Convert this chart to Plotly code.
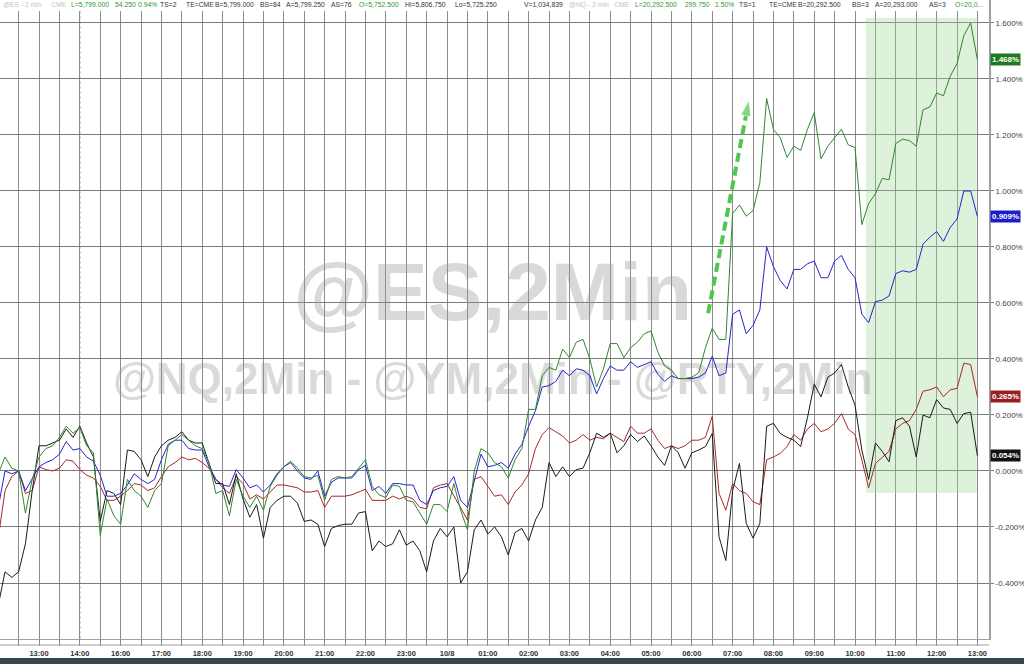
import plotly.graph_objects as go

# ---- data: % change, sampled every 10 minutes of displayed session time ----
nq = [-0.01, 0.05, 0.01, 0.00, -0.15, -0.03, 0.05, 0.08, 0.09, 0.12,
      0.16, 0.135, 0.155, 0.09, 0.065, -0.23, -0.10, -0.16, -0.19, -0.03,
      -0.07, -0.09, -0.13, -0.07, -0.045, 0.09, 0.11, 0.13, 0.11, 0.09,
      0.08, 0.03, -0.08, -0.07, -0.16, -0.03, -0.09, -0.13, -0.09, -0.14,
      -0.055, -0.015, 0.015, 0.035, 0.01, -0.02, -0.025, -0.015, -0.105, -0.03,
      -0.02, -0.025, -0.02, 0.01, 0.04, -0.055, -0.085, -0.095, -0.05, -0.055,
      -0.105, -0.11, -0.15, -0.19, -0.12, -0.12, -0.145, -0.045, -0.14, -0.21,
      0.00, 0.08, 0.065, 0.03, 0.015, -0.025, 0.04, 0.08, 0.22, 0.22,
      0.34, 0.37, 0.36, 0.435, 0.405, 0.46, 0.47, 0.40, 0.30, 0.365,
      0.455, 0.455, 0.405, 0.44, 0.46, 0.49, 0.50, 0.425, 0.375, 0.36,
      0.33, 0.33, 0.335, 0.35, 0.44, 0.51, 0.47, 0.47, 0.92, 0.95,
      0.91, 0.93, 1.03, 1.33, 1.22, 1.19, 1.12, 1.16, 1.145, 1.22,
      1.28, 1.115, 1.16, 1.19, 1.22, 1.165, 1.155, 0.88, 0.955, 0.99,
      1.045, 1.04, 1.17, 1.185, 1.18, 1.16, 1.29, 1.30, 1.35, 1.34,
      1.41, 1.455, 1.555, 1.60, 1.468]
es = [-0.13, 0.00, -0.01, 0.00, -0.07, -0.03, 0.015, 0.03, 0.04, 0.06,
      0.105, 0.075, 0.08, 0.05, 0.035, -0.015, -0.09, -0.09, -0.08, -0.05,
      -0.01, -0.03, -0.045, -0.03, 0.04, 0.095, 0.11, 0.11, 0.08, 0.075,
      0.075, 0.015, -0.03, -0.05, -0.055, 0.005, -0.025, -0.06, -0.05, -0.075,
      -0.05, -0.01, 0.015, 0.03, 0.00, -0.025, -0.03, 0.00, -0.09, -0.04,
      -0.025, -0.025, -0.025, 0.005, 0.02, -0.07, -0.055, -0.08, -0.045, -0.045,
      -0.05, -0.05, -0.105, -0.12, -0.07, -0.06, -0.055, -0.02, -0.105, -0.13,
      -0.03, 0.06, 0.015, 0.02, 0.03, 0.01, 0.06, 0.095, 0.16, 0.215,
      0.30, 0.305, 0.32, 0.36, 0.34, 0.365, 0.36, 0.34, 0.275, 0.33,
      0.375, 0.36, 0.36, 0.39, 0.37, 0.38, 0.39, 0.345, 0.32, 0.34,
      0.33, 0.33, 0.33, 0.335, 0.35, 0.41, 0.34, 0.35, 0.56, 0.575,
      0.49, 0.52, 0.575, 0.80, 0.73, 0.68, 0.65, 0.72, 0.72, 0.74,
      0.75, 0.69, 0.69, 0.75, 0.77, 0.72, 0.69, 0.56, 0.53, 0.605,
      0.61, 0.625, 0.705, 0.715, 0.71, 0.72, 0.81, 0.835, 0.855, 0.82,
      0.87, 0.90, 1.00, 1.00, 0.909]
ym = [-0.24, -0.07, -0.02, 0.00, -0.08, -0.07, 0.015, 0.005, 0.00, 0.01,
      0.04, 0.035, 0.005, -0.015, -0.025, -0.055, -0.105, -0.105, -0.09, -0.07,
      -0.045, -0.05, -0.07, -0.06, -0.02, 0.015, 0.03, 0.05, 0.04, 0.045,
      0.03, 0.01, -0.03, -0.06, -0.08, -0.02, -0.045, -0.10, -0.085, -0.10,
      -0.075, -0.05, -0.05, -0.055, -0.06, -0.075, -0.075, -0.07, -0.13, -0.09,
      -0.09, -0.09, -0.085, -0.075, -0.065, -0.105, -0.105, -0.105, -0.09, -0.10,
      -0.09, -0.10, -0.13, -0.135, -0.06, -0.05, -0.045, -0.09, -0.13, -0.175,
      -0.03, -0.02, -0.055, -0.09, -0.085, -0.12, -0.075, -0.05, -0.01, 0.08,
      0.13, 0.155, 0.14, 0.125, 0.10, 0.11, 0.13, 0.11, 0.12, 0.115,
      0.135, 0.12, 0.105, 0.16, 0.135, 0.135, 0.15, 0.11, 0.08, 0.09,
      0.08, 0.09, 0.11, 0.11, 0.12, 0.195, -0.08, -0.14, -0.045, -0.07,
      -0.08, -0.11, -0.12, 0.04, 0.05, 0.063, 0.087, 0.13, 0.11, 0.15,
      0.17, 0.14, 0.15, 0.17, 0.205, 0.15, 0.13, 0.04, -0.06, 0.027,
      0.05, 0.07, 0.15, 0.17, 0.18, 0.22, 0.285, 0.29, 0.30, 0.265,
      0.29, 0.295, 0.385, 0.38, 0.265]
rty = [-0.48, -0.36, -0.38, -0.36, -0.26, -0.07, 0.09, 0.09, 0.10, 0.11,
       0.15, 0.12, 0.16, 0.10, 0.05, -0.18, -0.07, -0.08, -0.12, 0.075,
       0.07, 0.04, -0.02, 0.05, 0.09, 0.11, 0.12, 0.14, 0.11, 0.10,
       0.10, 0.03, -0.045, -0.045, -0.12, -0.01, -0.10, -0.165, -0.12, -0.24,
       -0.13, -0.105, -0.09, -0.09, -0.115, -0.18, -0.175, -0.19, -0.27, -0.205,
       -0.195, -0.19, -0.19, -0.15, -0.145, -0.285, -0.25, -0.27, -0.26, -0.21,
       -0.265, -0.25, -0.285, -0.36, -0.25, -0.205, -0.235, -0.20, -0.40, -0.36,
       -0.21, -0.175, -0.225, -0.20, -0.235, -0.30, -0.22, -0.205, -0.25, -0.175,
       -0.13, 0.03, -0.02, 0.015, -0.02, 0.005, 0.01, 0.065, 0.135, 0.12,
       0.135, 0.065, 0.09, 0.13, 0.105, 0.125, 0.09, 0.05, 0.02, 0.09,
       0.065, 0.01, 0.065, 0.075, 0.087, 0.134, -0.235, -0.32, -0.07, 0.027,
       -0.187, -0.24, -0.187, 0.16, 0.17, 0.134, 0.12, 0.11, 0.087, 0.19,
       0.31, 0.265, 0.335, 0.35, 0.38, 0.30, 0.235, 0.075, -0.03, 0.10,
       0.07, 0.033, 0.18, 0.19, 0.16, 0.05, 0.20, 0.19, 0.255, 0.225,
       0.22, 0.17, 0.205, 0.21, 0.054]

minutes = [10 * i for i in range(len(nq))]   # minutes since 12:00 (session break removed)

hour_labels = ["13:00", "14:00", "16:00", "17:00", "18:00", "19:00", "20:00", "21:00",
               "22:00", "23:00", "10/8", "01:00", "02:00", "03:00", "04:00", "05:00",
               "06:00", "07:00", "08:00", "09:00", "10:00", "11:00", "12:00", "13:00"]
ytick_vals = [-0.4, -0.2, 0.0, 0.2, 0.4, 0.6, 0.8, 1.0, 1.2, 1.4, 1.6]
ytick_text = ["%.3f%%" % v for v in ytick_vals]

series = [("@YM", ym, "#a52a2a"), ("@RTY", rty, "#1a1a1a"),
          ("@ES", es, "#2424d0"), ("@NQ", nq, "#2f872f")]
last_labels = [(nq[-1], "#1f7a1f"), (es[-1], "#1c1cc8"), (ym[-1], "#9a1f1f"), (rty[-1], "#111111")]

header = [
    ("@ES - 2 min", 1, "#c4c4c4"), ("CME", 49, "#c4c4c4"), ("L=5,799.000", 69, "#2e9a2e"),
    ("54.250", 113, "#2e9a2e"), ("0.94%", 136, "#2e9a2e"), ("TS=2", 158, "#333"),
    ("TE=CME", 184, "#333"), ("B=5,799.000", 213, "#333"), ("BS=84", 258, "#333"),
    ("A=5,799.250", 284, "#333"), ("AS=76", 329, "#333"), ("O=5,752.500", 357, "#2e9a2e"),
    ("Hi=5,806.750", 403, "#333"), ("Lo=5,725.250", 453, "#333"), ("V=1,034,839", 522, "#333"),
    ("@NQ - 2 min", 567, "#c4c4c4"), ("CME", 612, "#c4c4c4"), ("L=20,292.500", 633, "#2e9a2e"),
    ("299.750", 683, "#2e9a2e"), ("1.50%", 713, "#2e9a2e"), ("TS=1", 737, "#333"),
    ("TE=CME", 767, "#333"), ("B=20,292.500", 796, "#333"), ("BS=3", 850, "#333"),
    ("A=20,293.000", 873, "#333"), ("AS=3", 927, "#333"), ("O=20,0...", 953, "#2e9a2e"),
]

PLOT_W = 989.0
PLOT_H = 639.0

fig = go.Figure()

# watermark (drawn first so lines sit on top)
fig.add_trace(go.Scatter(x=[727], y=[0.611], mode="text", text=["@ES,2Min"],
                         textfont=dict(size=82, color="rgba(150,150,150,0.36)", family="Arial", weight="bold"),
                         hoverinfo="skip", showlegend=False, cliponaxis=False))
fig.add_trace(go.Scatter(x=[727], y=[0.314], mode="text", text=["@NQ,2Min - @YM,2Min - @RTY,2Min"],
                         textfont=dict(size=44, color="rgba(150,150,150,0.36)", family="Arial", weight="bold"),
                         hoverinfo="skip", showlegend=False, cliponaxis=False))

for name, vals, col in series:
    fig.add_trace(go.Scatter(x=minutes, y=vals, mode="lines", name=name,
                             line=dict(color=col, width=1), showlegend=False))

# dashed green arrow
fig.add_trace(go.Scatter(x=[1044, 1104], y=[0.564, 1.325], mode="lines+markers",
                         line=dict(color="#4cc94c", width=4, dash="9px,5px"),
                         marker=dict(symbol=["circle", "arrow"], size=[7, 17], color="#4cc94c",
                                     angleref="previous"),
                         hoverinfo="skip", showlegend=False))

tickvals = [30 * k for k in range(1, 49)]
ticktext = []
for v in tickvals:
    if v % 60 == 0:
        ticktext.append(hour_labels[v // 60 - 1])
    else:
        ticktext.append("")

shapes = [
    # highlight box
    dict(type="rect", xref="x", yref="y", x0=1276, x1=1439, y0=-0.079, y1=1.618,
         fillcolor="rgba(160,215,150,0.35)", line=dict(width=0), layer="between"),
    # dashed session line at 14:00
    dict(type="line", xref="x", yref="paper", x0=120, x1=120, y0=0, y1=1,
         line=dict(color="white", width=1.5), layer="between"),
    dict(type="line", xref="x", yref="paper", x0=120, x1=120, y0=0, y1=1,
         line=dict(color="#8a8a8a", width=1, dash="3px,2px"), layer="between"),
    # header white strip
    dict(type="rect", xref="paper", yref="paper", x0=0, x1=1, y0=1 - 11 / PLOT_H, y1=1,
         fillcolor="white", line=dict(width=0), layer="above"),
    # bottom tick band line
    dict(type="line", xref="paper", yref="paper", x0=0, x1=1, y0=-6 / PLOT_H, y1=-6 / PLOT_H,
         line=dict(color="#a0a0a0", width=1)),
    # bottom dark bar
    dict(type="rect", xref="paper", yref="paper", x0=0, x1=1024 / PLOT_W,
         y0=-25 / PLOT_H, y1=-19 / PLOT_H, fillcolor="#37474f", line=dict(width=0)),
]

annotations = []
for val, col in last_labels:
    annotations.append(dict(xref="paper", yref="y", x=1, y=val, xanchor="left", yanchor="middle",
                            xshift=1, text="<b>%.3f%%</b>" % val, showarrow=False,
                            font=dict(size=8, color="white", family="Arial"),
                            bgcolor=col, borderpad=1))
for txt, px, col in header:
    annotations.append(dict(xref="paper", yref="paper", x=px / PLOT_W, y=1, xanchor="left",
                            yanchor="top", yshift=1, text=txt, showarrow=False,
                            font=dict(size=6.8, color=col, family="Arial")))

fig.update_layout(
    width=1024, height=664,
    margin=dict(l=0, r=35, t=0, b=25, autoexpand=False),
    paper_bgcolor="white", plot_bgcolor="white",
    shapes=shapes, annotations=annotations,
    xaxis=dict(range=[2.6, 1457], tickmode="array", tickvals=tickvals, ticktext=ticktext,
               automargin=False,
               showgrid=True, gridcolor="#8c8c8c", gridwidth=1, zeroline=False,
               showline=True, linecolor="#a0a0a0", ticks="outside", ticklen=6, tickcolor="#8c8c8c",
               ticklabelstandoff=1,
               tickfont=dict(size=7.5, color="#333", family="Arial", weight="bold")),
    yaxis=dict(range=[-0.6, 1.682], side="right", tickmode="array", tickvals=ytick_vals,
               ticktext=ytick_text, showgrid=True, gridcolor="#7a7a7a", gridwidth=1,
               automargin=False,
               zeroline=False, showline=True, linecolor="#a0a0a0", linewidth=2,
               ticks="outside", ticklen=3, tickcolor="#7a7a7a",
               tickfont=dict(size=8, color="#444", family="Arial")),
    showlegend=False,
)

fig.write_html("out.html", config={"displayModeBar": False},
               post_script="document.body.style.margin='0';document.body.style.overflow='hidden';")
